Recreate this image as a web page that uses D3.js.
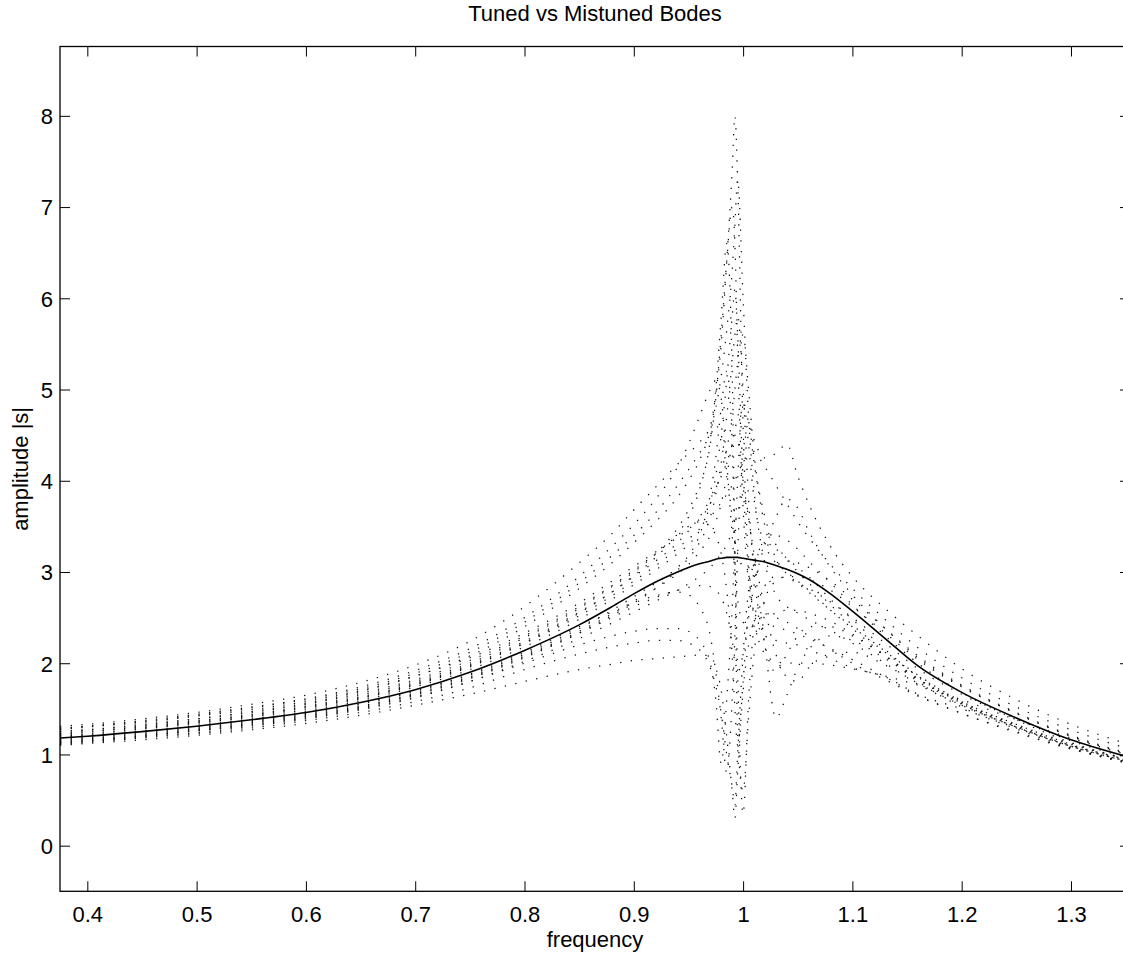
<!DOCTYPE html>
<html><head><meta charset="utf-8">
<script src="https://cdn.jsdelivr.net/npm/d3@7"></script>
<style>
body{margin:0;background:#fff;}
svg{display:block;}
text{font-family:"Liberation Sans",Arial,Helvetica,sans-serif;fill:#000;}
</style>
</head><body>
<svg id="chart" width="1123" height="957"></svg>
<script>
// ---- data ----
const freq = [0.375, 0.40, 0.45, 0.50, 0.55, 0.60, 0.65, 0.70, 0.75, 0.80,
              0.85, 0.88, 0.90, 0.92, 0.94, 0.95, 0.96, 0.97, 0.975, 0.98,
              0.985, 0.99, 0.9925, 0.995, 1.00, 1.005, 1.01, 1.02, 1.03, 1.04,
              1.05, 1.06, 1.08, 1.10, 1.13, 1.16, 1.20, 1.25, 1.30, 1.35];

const tuned = [1.18, 1.20, 1.25, 1.31, 1.38, 1.46, 1.57, 1.71, 1.90, 2.14,
               2.42, 2.62, 2.76, 2.89, 3.00, 3.05, 3.09, 3.12, 3.14, 3.15,
               3.16, 3.16, 3.16, 3.16, 3.15, 3.14, 3.13, 3.11, 3.07, 3.03,
               2.98, 2.92, 2.76, 2.57, 2.27, 1.97, 1.68, 1.40, 1.16, 0.98];

const mist1 = [1.31, 1.33, 1.39, 1.46, 1.55, 1.65, 1.79, 1.98, 2.24, 2.62,
               3.10, 3.42, 3.68, 3.93, 4.18, 4.30, 4.42, 4.60, 4.95, 5.50,
               6.40, 7.40, 8.00, 7.30, 4.60, 3.10, 2.50, 2.10, 2.02, 2.00,
               2.00, 2.00, 1.98, 1.94, 1.86, 1.76, 1.60, 1.38, 1.18, 1.00];
const mist2 = [1.25, 1.27, 1.33, 1.39, 1.47, 1.56, 1.69, 1.86, 2.08, 2.40,
               2.82, 3.10, 3.32, 3.55, 3.82, 4.00, 4.22, 4.55, 4.80, 5.15,
               5.65, 6.30, 6.80, 7.30, 6.00, 4.70, 3.90, 3.10, 2.75, 2.62,
               2.55, 2.48, 2.36, 2.22, 2.00, 1.77, 1.54, 1.30, 1.10, 0.95];
const mist3 = [1.20, 1.22, 1.28, 1.34, 1.41, 1.49, 1.61, 1.76, 1.96, 2.22,
               2.55, 2.78, 2.96, 3.16, 3.42, 3.60, 3.90, 4.45, 5.00, 5.80,
               6.60, 5.20, 3.20, 1.20, 0.60, 1.40, 2.10, 2.70, 2.90, 2.95,
               2.95, 2.92, 2.80, 2.62, 2.33, 2.04, 1.74, 1.45, 1.20, 1.01];
const mist4 = [1.27, 1.30, 1.35, 1.42, 1.49, 1.58, 1.70, 1.86, 2.06, 2.33,
               2.66, 2.90, 3.06, 3.22, 3.38, 3.47, 3.58, 3.75, 3.90, 4.10,
               4.35, 4.70, 5.00, 5.30, 5.60, 5.00, 4.30, 3.60, 3.30, 3.15,
               3.00, 2.88, 2.64, 2.42, 2.13, 1.87, 1.58, 1.33, 1.12, 0.96];
const mist5 = [1.22, 1.25, 1.30, 1.36, 1.43, 1.52, 1.63, 1.78, 1.98, 2.24,
               2.56, 2.78, 2.95, 3.12, 3.32, 3.45, 3.60, 3.80, 3.92, 4.05,
               4.20, 4.40, 4.55, 4.70, 4.80, 4.65, 4.45, 4.25, 4.30, 4.40,
               4.05, 3.75, 3.28, 2.95, 2.60, 2.30, 1.94, 1.60, 1.33, 1.12];
const mist6 = [1.14, 1.16, 1.21, 1.27, 1.34, 1.42, 1.52, 1.66, 1.84, 2.07,
               2.33, 2.50, 2.62, 2.72, 2.80, 2.83, 2.85, 2.84, 2.80, 2.72,
               2.55, 2.25, 2.05, 1.90, 2.10, 2.50, 2.85, 3.30, 3.60, 3.80,
               3.70, 3.45, 3.05, 2.75, 2.38, 2.06, 1.75, 1.45, 1.20, 1.01];
const mist7 = [1.10, 1.12, 1.16, 1.21, 1.27, 1.34, 1.43, 1.54, 1.66, 1.80,
               1.93, 1.99, 2.03, 2.05, 2.07, 2.08, 2.09, 2.08, 1.95, 1.70,
               1.20, 0.60, 0.30, 0.80, 1.70, 2.20, 2.45, 2.55, 2.50, 2.45,
               2.38, 2.30, 2.15, 2.00, 1.82, 1.64, 1.45, 1.25, 1.06, 0.91];
const mist8 = [1.16, 1.18, 1.23, 1.29, 1.36, 1.44, 1.55, 1.69, 1.87, 2.10,
               2.38, 2.58, 2.73, 2.88, 3.05, 3.18, 3.40, 3.85, 4.25, 4.80,
               5.20, 4.40, 3.20, 1.90, 0.35, 1.60, 2.40, 2.85, 2.95, 2.93,
               2.88, 2.82, 2.67, 2.50, 2.22, 1.94, 1.66, 1.39, 1.15, 0.97];
const mist9 = [1.12, 1.14, 1.19, 1.24, 1.31, 1.39, 1.49, 1.62, 1.80, 2.02,
               2.27, 2.44, 2.56, 2.68, 2.80, 2.87, 2.95, 3.05, 3.12, 3.20,
               3.30, 3.45, 3.55, 3.65, 3.85, 3.60, 3.10, 2.20, 1.40, 1.65,
               1.95, 2.15, 2.30, 2.25, 2.05, 1.82, 1.55, 1.30, 1.08, 0.92];
const mist10 = [1.25, 1.27, 1.32, 1.39, 1.46, 1.55, 1.67, 1.82, 2.03, 2.30,
                2.62, 2.85, 3.02, 3.20, 3.40, 3.50, 3.55, 3.50, 3.40, 3.20,
                2.80, 2.10, 1.50, 1.10, 1.80, 2.60, 3.00, 3.35, 3.40, 3.35,
                3.25, 3.12, 2.88, 2.64, 2.30, 2.00, 1.68, 1.38, 1.13, 0.95];
const mist11 = [1.19, 1.21, 1.26, 1.32, 1.39, 1.47, 1.59, 1.74, 1.93, 2.18,
                2.48, 2.70, 2.86, 3.02, 3.20, 3.30, 3.45, 3.75, 4.05, 4.50,
                5.10, 5.80, 6.10, 5.60, 4.00, 3.00, 2.55, 2.30, 2.25, 2.22,
                2.20, 2.15, 2.05, 1.95, 1.85, 1.66, 1.50, 1.29, 1.09, 0.93];
const mist12 = [1.13, 1.15, 1.20, 1.26, 1.32, 1.40, 1.50, 1.63, 1.80, 2.00,
                2.20, 2.30, 2.35, 2.38, 2.38, 2.35, 2.25, 2.00, 1.60, 0.90,
                1.60, 2.60, 3.30, 4.00, 4.90, 4.40, 3.80, 3.30, 3.10, 3.00,
                2.90, 2.80, 2.58, 2.38, 2.08, 1.80, 1.52, 1.28, 1.07, 0.91];
const mist13 = [1.29, 1.31, 1.37, 1.44, 1.52, 1.61, 1.74, 1.92, 2.16, 2.50,
                2.95, 3.28, 3.52, 3.80, 4.15, 4.40, 4.70, 5.00, 5.10, 4.90,
                4.20, 3.40, 3.00, 2.70, 2.45, 2.40, 2.40, 2.42, 2.40, 2.36,
                2.32, 2.27, 2.16, 2.04, 1.85, 1.65, 1.45, 1.24, 1.06, 0.92];
const mist14 = [1.21, 1.23, 1.29, 1.35, 1.42, 1.51, 1.62, 1.77, 1.97, 2.22,
                2.52, 2.74, 2.90, 3.07, 3.26, 3.36, 3.47, 3.60, 3.68, 3.76,
                3.85, 3.95, 4.00, 4.08, 4.20, 4.30, 4.30, 4.15, 3.95, 3.75,
                3.55, 3.38, 3.08, 2.82, 2.48, 2.17, 1.84, 1.52, 1.27, 1.07];
const mist15 = [1.13, 1.15, 1.20, 1.26, 1.33, 1.41, 1.51, 1.65, 1.83, 2.06,
                2.33, 2.52, 2.66, 2.82, 3.02, 3.15, 3.32, 3.60, 3.85, 4.20,
                4.70, 5.30, 5.60, 5.80, 5.00, 3.80, 3.00, 2.20, 1.90, 2.10,
                2.30, 2.40, 2.40, 2.30, 2.08, 1.83, 1.56, 1.31, 1.09, 0.93];
const mist16 = [1.17, 1.19, 1.24, 1.30, 1.37, 1.45, 1.56, 1.70, 1.88, 2.12,
                2.40, 2.56, 2.66, 2.74, 2.78, 2.75, 2.62, 2.30, 1.90, 1.40,
                0.80, 1.60, 2.30, 3.20, 4.30, 4.60, 4.20, 3.50, 3.15, 2.98,
                2.88, 2.78, 2.58, 2.40, 2.12, 1.86, 1.58, 1.33, 1.11, 0.94];
const mist17 = [1.28, 1.31, 1.36, 1.43, 1.51, 1.60, 1.72, 1.89, 2.12, 2.45,
                2.88, 3.18, 3.40, 3.65, 3.95, 4.12, 4.30, 4.50, 4.60, 4.50,
                4.10, 3.60, 3.35, 3.20, 3.05, 3.00, 3.00, 3.05, 3.10, 3.12,
                3.10, 3.05, 2.90, 2.70, 2.38, 2.08, 1.76, 1.46, 1.21, 1.02];
const mist18 = [1.15, 1.17, 1.22, 1.28, 1.35, 1.43, 1.53, 1.67, 1.85, 2.08,
                2.35, 2.54, 2.68, 2.82, 2.98, 3.08, 3.22, 3.40, 3.55, 3.75,
                4.05, 4.40, 4.50, 4.45, 4.00, 3.60, 3.20, 2.60, 2.10, 1.85,
                1.80, 1.95, 2.10, 2.12, 1.98, 1.78, 1.54, 1.30, 1.09, 0.93];
const mist19 = [1.11, 1.13, 1.18, 1.23, 1.29, 1.37, 1.46, 1.58, 1.73, 1.93,
                2.10, 2.18, 2.22, 2.25, 2.25, 2.22, 2.15, 1.95, 1.75, 1.45,
                1.00, 0.65, 0.45, 1.00, 2.10, 2.80, 3.10, 3.30, 3.25, 3.15,
                3.05, 2.95, 2.70, 2.48, 2.15, 1.85, 1.56, 1.30, 1.09, 0.93];
const mist20 = [1.23, 1.25, 1.31, 1.37, 1.44, 1.53, 1.65, 1.80, 2.00, 2.28,
                2.60, 2.84, 3.00, 3.20, 3.48, 3.68, 3.95, 4.40, 4.90, 5.60,
                6.40, 7.00, 6.60, 5.40, 3.70, 2.90, 2.60, 2.50, 2.55, 2.58,
                2.58, 2.55, 2.46, 2.32, 2.08, 1.83, 1.57, 1.32, 1.11, 0.95];

const mistuned = [mist1, mist2, mist3, mist4, mist5, mist6, mist7, mist8, mist9, mist10,
                  mist11, mist12, mist13, mist14, mist15, mist16, mist17, mist18, mist19, mist20];

const xTicks = [0.4, 0.5, 0.6, 0.7, 0.8, 0.9, 1.0, 1.1, 1.2, 1.3];
const xTickLabels = ["0.4", "0.5", "0.6", "0.7", "0.8", "0.9", "1", "1.1", "1.2", "1.3"];
const yTicks = [0, 1, 2, 3, 4, 5, 6, 7, 8];
const yTickLabels = ["0", "1", "2", "3", "4", "5", "6", "7", "8"];
const titleText = "Tuned vs Mistuned Bodes";
const xLabelText = "frequency";
const yLabelText = "amplitude |s|";

// ---- layout ----
const L = 60, R = 1130, T = 46.5, B = 891.3;
const FS = 22;
const svg = d3.select("#chart");

const x = d3.scaleLinear().domain([0.375, 1.354]).range([L, R]);
const y = d3.scaleLinear().domain([-0.5, 8.76]).range([B, T]);

svg.append("defs").append("clipPath").attr("id", "plotclip")
  .append("rect").attr("x", L).attr("y", T).attr("width", R - L).attr("height", B - T);

const plot = svg.append("g").attr("clip-path", "url(#plotclip)");

const line = d3.line()
  .x((d, i) => x(freq[i]))
  .y(d => y(d))
  .curve(d3.curveMonotoneX);

plot.selectAll("path.mist").data(mistuned).join("path")
  .attr("class", "mist")
  .attr("d", d => line(d))
  .attr("fill", "none")
  .attr("stroke", "#111")
  .attr("stroke-width", 1.25)
  .attr("stroke-dasharray", "1.3 9.4");

plot.append("path")
  .attr("d", line(tuned))
  .attr("fill", "none")
  .attr("stroke", "#000")
  .attr("stroke-width", 1.6);

// ---- axes ----
const fmtX = d => xTickLabels[xTicks.indexOf(d)];
const fmtY = d => yTickLabels[yTicks.indexOf(d)];

const gB = svg.append("g").attr("transform", `translate(0,${B})`)
  .call(d3.axisBottom(x).tickValues(xTicks).tickFormat(fmtX).tickSizeInner(-10).tickSizeOuter(0).tickPadding(15));
const gT = svg.append("g").attr("transform", `translate(0,${T})`)
  .call(d3.axisTop(x).tickValues(xTicks).tickFormat("").tickSizeInner(-10).tickSizeOuter(0));
const gL = svg.append("g").attr("transform", `translate(${L},0)`)
  .call(d3.axisLeft(y).tickValues(yTicks).tickFormat(fmtY).tickSizeInner(-10).tickSizeOuter(0).tickPadding(7));
const gR = svg.append("g").attr("transform", `translate(${R},0)`)
  .call(d3.axisRight(y).tickValues(yTicks).tickFormat("").tickSizeInner(-10).tickSizeOuter(0));

[gB, gT, gL, gR].forEach(g => {
  g.select(".domain").remove();
  g.selectAll(".tick line").attr("stroke", "#000").attr("stroke-width", 1);
  g.selectAll("text").attr("font-size", FS).attr("font-family", "Liberation Sans, Arial, sans-serif").attr("fill", "#000");
});
gL.selectAll("text").attr("dy", "0.36em");

svg.append("rect").attr("x", L).attr("y", T).attr("width", R - L).attr("height", B - T)
  .attr("fill", "none").attr("stroke", "#000").attr("stroke-width", 1.3);

// ---- labels ----
svg.append("text").attr("x", (L + R) / 2).attr("y", 21).attr("text-anchor", "middle")
  .attr("font-size", FS).text(titleText);
svg.append("text").attr("x", (L + R) / 2).attr("y", 947).attr("text-anchor", "middle")
  .attr("font-size", FS).text(xLabelText);
svg.append("text").attr("transform", `translate(28,${(T + B) / 2}) rotate(-90)`).attr("text-anchor", "middle")
  .attr("font-size", FS).text(yLabelText);
</script>
</body></html>
